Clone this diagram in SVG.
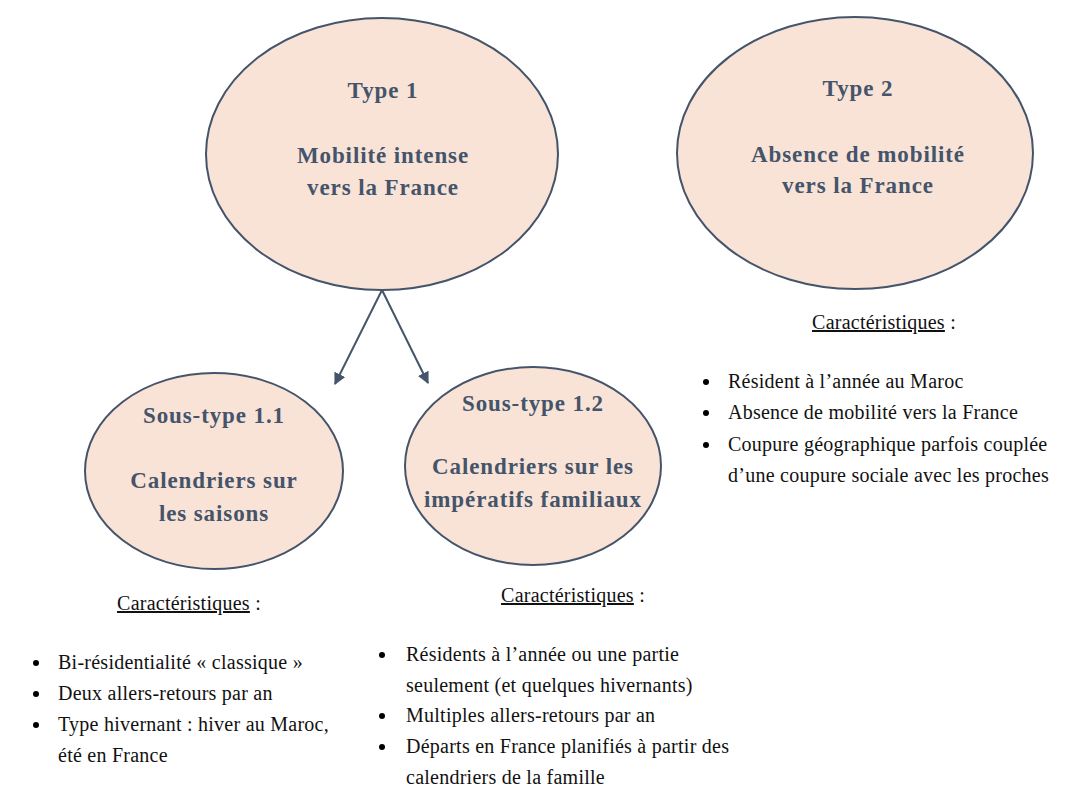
<svg xmlns="http://www.w3.org/2000/svg" width="1071" height="792" viewBox="0 0 1071 792">
<style>
.node ellipse{fill:#F9E3D7;stroke:#44546A;stroke-width:2}
.title{font-family:"Liberation Serif",serif;font-weight:bold;font-size:23px;letter-spacing:0.9px;fill:#44546A;text-anchor:middle}
.body{font-family:"Liberation Serif",serif;font-size:20px;letter-spacing:0.25px;fill:#111}
.head{font-family:"Liberation Serif",serif;font-size:20px;letter-spacing:0.25px;fill:#111;text-anchor:middle}
.conn line{stroke:#44546A;stroke-width:2}
</style>
<defs>
<marker id="arr" viewBox="0 0 10 10" refX="9" refY="5" markerWidth="6" markerHeight="6" orient="auto" markerUnits="strokeWidth">
<path d="M0,0 L10,5 L0,10 z" fill="#44546A"/>
</marker>
</defs>
<rect width="1071" height="792" fill="#FFFFFF"/>
<g id="type1" class="node">
<ellipse cx="382" cy="154" rx="176" ry="136"/>
<text class="title" x="383" y="98">Type 1</text>
<text class="title" x="383" y="163">Mobilité intense</text>
<text class="title" x="383" y="195">vers la France</text>
</g>
<g id="type2" class="node">
<ellipse cx="855" cy="153" rx="178" ry="136"/>
<text class="title" x="858" y="96">Type 2</text>
<text class="title" x="858" y="162">Absence de mobilité</text>
<text class="title" x="858" y="193">vers la France</text>
</g>
<g id="sub11" class="node">
<ellipse cx="214" cy="471" rx="129" ry="98"/>
<text class="title" x="214" y="423">Sous-type 1.1</text>
<text class="title" x="214" y="488">Calendriers sur</text>
<text class="title" x="214" y="521">les saisons</text>
</g>
<g id="sub12" class="node">
<ellipse cx="533" cy="466" rx="128" ry="99"/>
<text class="title" x="533" y="411">Sous-type 1.2</text>
<text class="title" x="533" y="474">Calendriers sur les</text>
<text class="title" x="533" y="507">impératifs familiaux</text>
</g>
<g id="connectors" class="conn">
<line x1="382" y1="290" x2="335" y2="384" marker-end="url(#arr)"/>
<line x1="382" y1="290" x2="428" y2="383" marker-end="url(#arr)"/>
</g>
<g id="char2">
<text class="head" x="884" y="329"><tspan text-decoration="underline">Caractéristiques</tspan> :</text>
<circle cx="706" cy="382" r="3"/><text class="body" x="728" y="388">Résident à l’année au Maroc</text>
<circle cx="706" cy="413" r="3"/><text class="body" x="728" y="419">Absence de mobilité vers la France</text>
<circle cx="706" cy="445" r="3"/><text class="body" x="728" y="451">Coupure géographique parfois couplée</text>
<text class="body" x="728" y="482">d’une coupure sociale avec les proches</text>
</g>
<g id="char11">
<text class="head" x="189" y="610"><tspan text-decoration="underline">Caractéristiques</tspan> :</text>
<circle cx="36" cy="663" r="3"/><text class="body" x="58" y="669">Bi-résidentialité « classique »</text>
<circle cx="36" cy="694" r="3"/><text class="body" x="58" y="700">Deux allers-retours par an</text>
<circle cx="36" cy="725" r="3"/><text class="body" x="58" y="731">Type hivernant : hiver au Maroc,</text>
<text class="body" x="58" y="762">été en France</text>
</g>
<g id="char12">
<text class="head" x="573" y="602"><tspan text-decoration="underline">Caractéristiques</tspan> :</text>
<circle cx="382" cy="655" r="3"/><text class="body" x="406" y="661">Résidents à l’année ou une partie</text>
<text class="body" x="406" y="692">seulement (et quelques hivernants)</text>
<circle cx="382" cy="716" r="3"/><text class="body" x="406" y="722">Multiples allers-retours par an</text>
<circle cx="382" cy="747" r="3"/><text class="body" x="406" y="753">Départs en France planifiés à partir des</text>
<text class="body" x="406" y="784">calendriers de la famille</text>
</g>
</svg>
